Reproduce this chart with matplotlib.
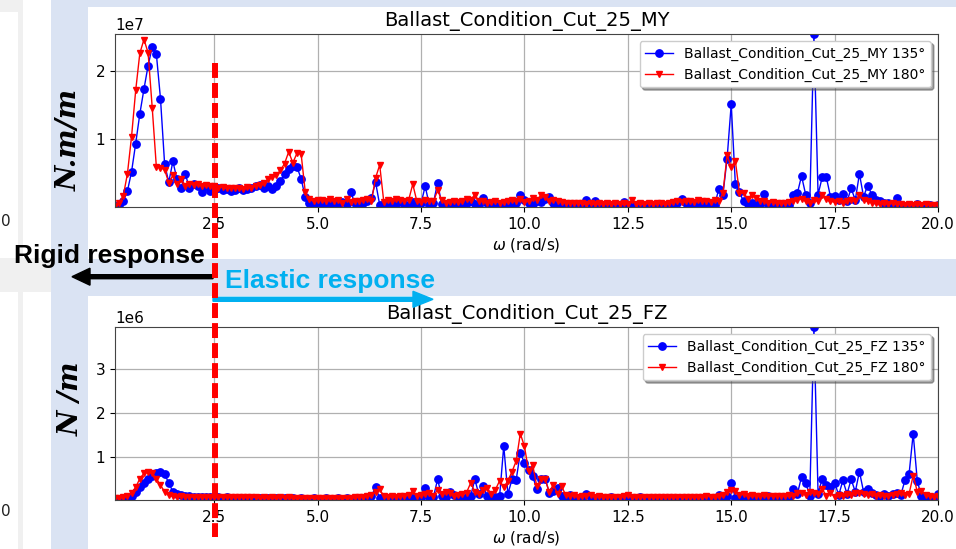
import numpy as np
import matplotlib
matplotlib.use("Agg")
import matplotlib.pyplot as plt
from matplotlib.patches import Rectangle, FancyArrow
from matplotlib.lines import Line2D
from matplotlib.transforms import IdentityTransform

# ---------------- data ----------------
omega = np.round(np.arange(1, 201) * 0.1, 1)  # rad/s grid 0.1 .. 20.0

# MY (units 1e7 N.m/m)
my_135 = [
    0.03, 0.05, 0.10, 0.25, 0.53, 0.94, 1.37, 1.73, 2.07, 2.34,
    2.24, 1.59, 0.64, 0.38, 0.68, 0.42, 0.30, 0.50, 0.29, 0.36,
    0.33, 0.24, 0.33, 0.25, 0.27, 0.30, 0.26, 0.28, 0.25, 0.27,
    0.29, 0.26, 0.28, 0.30, 0.32, 0.34, 0.30, 0.32, 0.28, 0.32,
    0.40, 0.50, 0.57, 0.61, 0.60, 0.43, 0.16, 0.08, 0.06, 0.07,
    0.06, 0.08, 0.05, 0.07, 0.04, 0.09, 0.06, 0.23, 0.08, 0.05,
    0.07, 0.10, 0.15, 0.38, 0.05, 0.06, 0.04, 0.08, 0.05, 0.10,
    0.06, 0.05, 0.09, 0.04, 0.07, 0.32, 0.05, 0.08, 0.37, 0.06,
    0.04, 0.05, 0.06, 0.05, 0.08, 0.07, 0.10, 0.06, 0.05, 0.15,
    0.07, 0.05, 0.06, 0.04, 0.05, 0.06, 0.05, 0.07, 0.20, 0.12,
    0.08, 0.06, 0.10, 0.09, 0.14, 0.17, 0.07, 0.05, 0.04, 0.05,
    0.04, 0.05, 0.04, 0.05, 0.12, 0.05, 0.11, 0.04, 0.05, 0.04,
    0.04, 0.05, 0.05, 0.09, 0.04, 0.05, 0.04, 0.05, 0.04, 0.05,
    0.04, 0.05, 0.06, 0.05, 0.04, 0.06, 0.08, 0.14, 0.07, 0.05,
    0.06, 0.07, 0.06, 0.08, 0.06, 0.05, 0.28, 0.20, 0.72, 1.51,
    0.35, 0.23, 0.10, 0.06, 0.08, 0.07, 0.05, 0.21, 0.06, 0.08,
    0.04, 0.05, 0.06, 0.05, 0.19, 0.22, 0.47, 0.20, 0.08, 2.53,
    0.20, 0.45, 0.45, 0.17, 0.18, 0.12, 0.21, 0.10, 0.29, 0.12,
    0.50, 0.17, 0.33, 0.20, 0.12, 0.10, 0.08, 0.07, 0.06, 0.15,
    0.05, 0.04, 0.05, 0.04, 0.06, 0.04, 0.04, 0.05, 0.04, 0.05,
]
my_180 = [
    0.04, 0.08, 0.18, 0.50, 1.04, 1.71, 2.25, 2.45, 2.26, 1.46,
    0.60, 0.59, 0.56, 0.37, 0.48, 0.35, 0.42, 0.33, 0.36, 0.34,
    0.35, 0.33, 0.34, 0.32, 0.33, 0.30, 0.31, 0.29, 0.30, 0.29,
    0.30, 0.28, 0.31, 0.29, 0.33, 0.34, 0.37, 0.42, 0.45, 0.48,
    0.55, 0.65, 0.82, 0.66, 0.80, 0.79, 0.24, 0.13, 0.10, 0.12,
    0.12, 0.11, 0.13, 0.10, 0.12, 0.08, 0.13, 0.09, 0.11, 0.10,
    0.12, 0.14, 0.10, 0.44, 0.63, 0.09, 0.12, 0.11, 0.13, 0.12,
    0.11, 0.12, 0.35, 0.10, 0.09, 0.12, 0.11, 0.10, 0.26, 0.12,
    0.08, 0.09, 0.10, 0.09, 0.11, 0.14, 0.12, 0.20, 0.10, 0.11,
    0.08, 0.09, 0.10, 0.08, 0.09, 0.10, 0.12, 0.10, 0.14, 0.09,
    0.10, 0.15, 0.12, 0.19, 0.16, 0.10, 0.12, 0.11, 0.09, 0.08,
    0.08, 0.07, 0.08, 0.07, 0.06, 0.07, 0.06, 0.07, 0.06, 0.07,
    0.06, 0.07, 0.06, 0.07, 0.06, 0.12, 0.06, 0.07, 0.06, 0.07,
    0.06, 0.07, 0.07, 0.06, 0.08, 0.09, 0.10, 0.09, 0.10, 0.11,
    0.09, 0.12, 0.10, 0.11, 0.09, 0.12, 0.10, 0.22, 0.77, 0.60,
    0.69, 0.22, 0.22, 0.14, 0.20, 0.15, 0.11, 0.10, 0.08, 0.09,
    0.08, 0.07, 0.08, 0.09, 0.10, 0.12, 0.14, 0.10, 0.08, 0.12,
    0.10, 0.20, 0.13, 0.10, 0.09, 0.11, 0.08, 0.10, 0.12, 0.10,
    0.20, 0.12, 0.10, 0.08, 0.07, 0.06, 0.07, 0.06, 0.07, 0.06,
    0.06, 0.05, 0.06, 0.05, 0.06, 0.05, 0.06, 0.05, 0.05, 0.05,
]

# FZ (units 1e6 N/m)
fz_135 = [
    0.01, 0.01, 0.02, 0.03, 0.10, 0.20, 0.30, 0.40, 0.48, 0.56,
    0.62, 0.66, 0.60, 0.40, 0.20, 0.15, 0.12, 0.11, 0.10, 0.09,
    0.09, 0.08, 0.08, 0.07, 0.07, 0.08, 0.06, 0.07, 0.06, 0.06,
    0.06, 0.05, 0.06, 0.05, 0.06, 0.05, 0.05, 0.06, 0.05, 0.05,
    0.05, 0.06, 0.05, 0.05, 0.04, 0.05, 0.04, 0.04, 0.05, 0.04,
    0.04, 0.05, 0.04, 0.04, 0.05, 0.04, 0.05, 0.04, 0.05, 0.04,
    0.05, 0.06, 0.10, 0.30, 0.05, 0.04, 0.05, 0.06, 0.05, 0.06,
    0.05, 0.07, 0.06, 0.05, 0.07, 0.28, 0.06, 0.08, 0.48, 0.10,
    0.08, 0.20, 0.12, 0.06, 0.05, 0.08, 0.10, 0.48, 0.14, 0.32,
    0.10, 0.06, 0.08, 0.10, 1.25, 0.15, 0.48, 0.47, 1.09, 0.86,
    0.70, 0.55, 0.26, 0.48, 0.50, 0.18, 0.22, 0.28, 0.10, 0.08,
    0.12, 0.06, 0.05, 0.04, 0.14, 0.06, 0.05, 0.08, 0.04, 0.05,
    0.09, 0.05, 0.04, 0.05, 0.04, 0.06, 0.05, 0.08, 0.04, 0.05,
    0.04, 0.05, 0.04, 0.06, 0.05, 0.04, 0.05, 0.06, 0.05, 0.04,
    0.05, 0.04, 0.05, 0.06, 0.05, 0.04, 0.12, 0.08, 0.10, 0.41,
    0.06, 0.05, 0.07, 0.06, 0.05, 0.06, 0.07, 0.05, 0.10, 0.05,
    0.06, 0.05, 0.06, 0.08, 0.26, 0.15, 0.54, 0.41, 0.10, 3.97,
    0.15, 0.50, 0.35, 0.30, 0.41, 0.12, 0.46, 0.15, 0.48, 0.20,
    0.66, 0.20, 0.27, 0.18, 0.12, 0.10, 0.14, 0.10, 0.15, 0.18,
    0.12, 0.46, 0.60, 1.53, 0.44, 0.10, 0.08, 0.06, 0.05, 0.15,
]
fz_180 = [
    0.05, 0.06, 0.07, 0.10, 0.18, 0.30, 0.50, 0.62, 0.64, 0.62,
    0.50, 0.35, 0.20, 0.12, 0.10, 0.09, 0.10, 0.09, 0.08, 0.09,
    0.08, 0.08, 0.08, 0.08, 0.08, 0.07, 0.08, 0.07, 0.07, 0.07,
    0.07, 0.07, 0.07, 0.07, 0.07, 0.06, 0.07, 0.06, 0.07, 0.06,
    0.07, 0.06, 0.07, 0.06, 0.06, 0.06, 0.05, 0.06, 0.05, 0.05,
    0.05, 0.06, 0.05, 0.06, 0.05, 0.06, 0.05, 0.06, 0.08, 0.07,
    0.08, 0.10, 0.12, 0.20, 0.26, 0.10, 0.08, 0.10, 0.09, 0.11,
    0.10, 0.12, 0.22, 0.10, 0.12, 0.14, 0.18, 0.10, 0.25, 0.14,
    0.20, 0.16, 0.10, 0.12, 0.14, 0.18, 0.40, 0.20, 0.15, 0.24,
    0.28, 0.15, 0.25, 0.45, 0.30, 0.45, 0.66, 0.90, 1.53, 1.24,
    0.68, 0.81, 0.32, 0.48, 0.48, 0.20, 0.36, 0.15, 0.32, 0.12,
    0.10, 0.12, 0.09, 0.11, 0.10, 0.12, 0.09, 0.10, 0.08, 0.09,
    0.08, 0.09, 0.08, 0.10, 0.12, 0.09, 0.08, 0.09, 0.08, 0.08,
    0.08, 0.07, 0.08, 0.07, 0.08, 0.07, 0.08, 0.07, 0.08, 0.09,
    0.08, 0.09, 0.08, 0.10, 0.09, 0.08, 0.10, 0.12, 0.20, 0.24,
    0.22, 0.12, 0.14, 0.10, 0.12, 0.11, 0.10, 0.12, 0.11, 0.10,
    0.10, 0.11, 0.10, 0.12, 0.11, 0.16, 0.18, 0.12, 0.20, 0.18,
    0.14, 0.27, 0.10, 0.18, 0.08, 0.12, 0.10, 0.14, 0.12, 0.16,
    0.18, 0.14, 0.12, 0.15, 0.10, 0.12, 0.11, 0.10, 0.12, 0.14,
    0.18, 0.12, 0.15, 0.57, 0.20, 0.22, 0.12, 0.10, 0.08, 0.10,
]

titles = ["Ballast_Condition_Cut_25_MY", "Ballast_Condition_Cut_25_FZ"]
headings = ["135°", "180°"]
ylabels = ["N.m/m", "N /m"]
xlabel = r"$\omega$ (rad/s)"
xticks = [2.5, 5.0, 7.5, 10.0, 12.5, 15.0, 17.5, 20.0]

# ---------------- figure ----------------
W, H = 956, 549
fig = plt.figure(figsize=(W / 100, H / 100), dpi=100)
fig.patch.set_facecolor("white")


def fx(x):
    return x / W


def fy(y):
    return 1 - y / H


def rect(x0, y0, x1, y1, color, z=-10):
    fig.add_artist(Rectangle((fx(x0), fy(y1)), (x1 - x0) / W, (y1 - y0) / H,
                             transform=fig.transFigure, facecolor=color,
                             edgecolor="none", zorder=z))


BLUEBG = "#dae3f3"
GRAY = "#f0f0f0"
rect(51, 0, 956, 549, BLUEBG)
rect(88, 7, 956, 259, "white", -9)
rect(88, 296, 956, 549, "white", -9)
rect(0, 0, 18, 12, GRAY)
rect(18, 0, 23, 549, GRAY)
rect(0, 258, 51, 292, GRAY)

fig.text(fx(0.5), fy(222), "0", ha="left", va="center", fontsize=11, color="#222")
fig.text(fx(0.5), fy(512), "0", ha="left", va="center", fontsize=11, color="#222")

ax1 = fig.add_axes([fx(115), fy(207), (938 - 115) / W, (207 - 34) / H])
ax2 = fig.add_axes([fx(115), fy(500), (938 - 115) / W, (500 - 327) / H])

series = [(ax1, my_135, my_180, 1e7, (0.019e7, 2.53e7)),
          (ax2, fz_135, fz_180, 1e6, (0.01e6, 3.97e6))]

for i, (ax, s135, s180, scale, ylim) in enumerate(series):
    ax.plot(omega, np.array(s135) * scale, "-o", color="blue", ms=5.3, lw=1.0,
            label=f"{titles[i]} {headings[0]}")
    ax.plot(omega, np.array(s180) * scale, "-v", color="red", ms=5.0, lw=1.0,
            label=f"{titles[i]} {headings[1]}")
    ax.set_xlim(0.1, 20.0)
    ax.set_ylim(*ylim)
    ax.set_xticks(xticks)
    ax.grid(True, color="#b0b0b0", lw=0.9)
    ax.tick_params(labelsize=11)
    ax.yaxis.get_offset_text().set_fontsize(11)
    ax.set_title(titles[i], fontsize=14)
    ax.set_xlabel(xlabel, fontsize=11, labelpad=3)
    for sp in ax.spines.values():
        sp.set_color("#444444")
    ax.legend(loc="upper right", fontsize=10, shadow=True, fancybox=True,
              framealpha=1.0)

# y labels
fig.text(fx(69), fy(140), ylabels[0], rotation=90, ha="center", va="center",
         fontsize=20, family="DejaVu Serif", style="italic", weight="bold")
fig.text(fx(71), fy(399), ylabels[1], rotation=90, ha="center", va="center",
         fontsize=20, family="DejaVu Serif", style="italic", weight="bold")

# annotations
fig.text(fx(14), fy(263.5), "Rigid response", fontsize=19, fontweight="bold",
         family="Liberation Sans", va="baseline", ha="left", color="black",
         zorder=30)
fig.text(fx(225), fy(288.3), "Elastic response", fontsize=19, fontweight="bold",
         family="Liberation Sans", va="baseline", ha="left", color="#00b0f0",
         zorder=30)

fig.add_artist(FancyArrow(213, H - 276.7, -141, 0, width=4, head_width=17,
                          head_length=18, length_includes_head=True,
                          color="black", transform=IdentityTransform(),
                          zorder=25))
fig.add_artist(FancyArrow(213, H - 299.3, 220, 0, width=4, head_width=16,
                          head_length=20, length_includes_head=True,
                          color="#00b0f0", transform=IdentityTransform(),
                          zorder=25))

fig.add_artist(Line2D([fx(215), fx(215)], [fy(63), fy(537)],
                      transform=fig.transFigure, color="red", lw=4.3,
                      linestyle=(0, (2.5, 0.85)), zorder=40))

fig.savefig("out.png", dpi=100)
